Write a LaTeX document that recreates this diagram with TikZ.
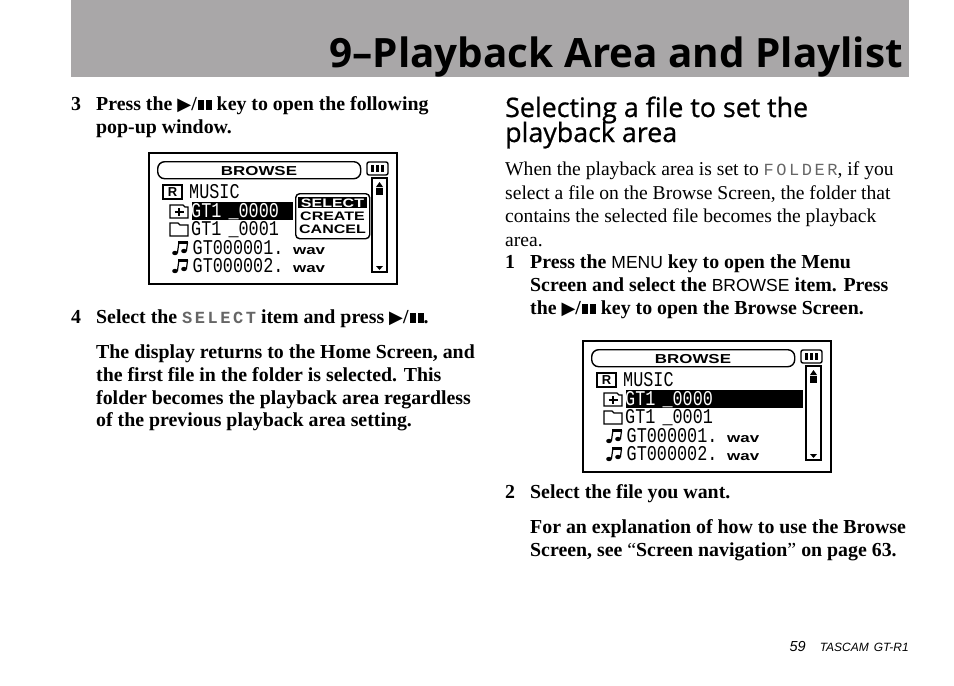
\documentclass[tikz,border=0pt]{standalone}
\usepackage{fontspec}
\setmainfont{Liberation Serif}
\newfontfamily\titlefont{Open Sans}
\newfontfamily\headfont[FakeBold=0.8]{Open Sans}
\newfontfamily\labelfont{Liberation Sans}
\newfontfamily\symbolfont{DejaVu Sans}
\newfontfamily\lcdfont[FakeStretch=0.8]{Liberation Mono}
\newfontfamily\lcdbold[FakeStretch=1.3]{Liberation Sans}
\newfontfamily\lcdword[LetterSpace=15]{Liberation Mono}
\definecolor{bandgray}{HTML}{A9A7A8}
\definecolor{wordgray}{HTML}{666666}

\newcommand{\playkey}{{\symbolfont\fontsize{18}{18}\selectfont\symbol{"25B6}}/\hspace{1.5pt}\rule{5.5pt}{10.5pt}\hspace{2.5pt}\rule{5.5pt}{10.5pt}}
\newcommand{\lcdinline}[1]{{\lcdword\fontsize{17}{17}\selectfont\color{wordgray}#1}}
\newcommand{\keyname}[1]{{\labelfont\fontsize{17.5}{17.5}\selectfont\mdseries #1}}

\tikzset{
  bodyline/.style={anchor=base west,inner sep=0pt,font=\fontsize{19.6}{23}\selectfont},
  boldline/.style={bodyline,font=\fontsize{19.85}{23}\selectfont\bfseries},
  headline/.style={anchor=base west,inner sep=0pt,font=\headfont\fontsize{26.8}{28}\selectfont},
  lcdtext/.style={anchor=base west,inner sep=0pt,font=\lcdfont\fontsize{21}{21}\selectfont},
  lcdsmall/.style={anchor=base west,inner sep=0pt,font=\lcdbold\bfseries\fontsize{13}{13}\selectfont},
  lcdhead/.style={anchor=base,inner sep=0pt,font=\lcdbold\bfseries\fontsize{13}{13}\selectfont},
  lcdmenu/.style={anchor=base,inner sep=0pt,font=\lcdbold\bfseries\fontsize{12.3}{12.3}\selectfont},
  lcdline/.style={draw=black,line width=1.4pt}
}

% beamed note, #1 is the height of its heads
\newcommand{\noteicon}[1]{
  \fill (25,#1) ellipse (2.8pt and 2.2pt);
  \fill (34,#1-2) ellipse (2.8pt and 2.2pt);
  \draw[line width=1.2pt] (27.4,#1) -- (29,#1-11) (36.4,#1-2) -- (37.6,#1-11);
  \draw[line width=2.4pt] (28.4,#1-10.5) -- (38,#1-10.5);
}

% one browse screen, #1 prefix, #2 and #3 top left corner, #4 end of the bar
\newcommand{\browsescreen}[4]{
  \begin{scope}[shift={(#2,#3)}]
    \draw[line width=1.1pt] (-1,-1) rectangle (247,130);
    \node[lcdline,rounded corners=7pt,minimum width=203pt,minimum height=17pt,inner sep=0pt,anchor=north west] (#1pill) at (7,7) {};
    \node[lcdhead] (#1title) at (109,21) {BROWSE};
    % battery
    \draw[lcdline,rounded corners=2pt] (217,8) rectangle (238,21);
    \foreach \bx in {221,226,231}
      \fill (\bx,11) rectangle +(3.4,7);
    % scroll bar
    \draw[lcdline,line width=1.5pt] (222,24) rectangle (237,118);
    \fill (226,33) -- (233,33) -- (229.5,28) -- cycle;
    \fill (226,33.5) rectangle (233,41);
    \fill (226,112) -- (233,112) -- (229.5,116) -- cycle;
    % bar
    \fill (42,48) rectangle (#4,66);
    % folder line
    \draw[lcdline] (13,31) rectangle (32,45);
    \node[inner sep=0pt,font=\labelfont\bfseries\fontsize{13}{13}\selectfont] (#1card) at (22.5,38) {R};
    \node[lcdtext] (#1music) at (39,44) {MUSIC};
    \draw[lcdline] (20,64) -- (20,51) -- (33,51) -- (35,53) -- (38,53) -- (38,64) -- cycle;
    \draw[lcdline] (24.5,58) -- (33.5,58) (29,54) -- (29,62);
    \node[lcdtext,white] (#1first) at (41,63) {GT1 \hspace{-3pt}\_0000};
    \draw[lcdline] (20,82) -- (20,69) -- (28,69) -- (30,71) -- (38,71) -- (38,82) -- cycle;
    \node[lcdtext] (#1second) at (41,81) {GT1 \hspace{-3pt}\_0001};
    \noteicon{99}
    \node[lcdtext] (#1fileone) at (42.5,100) {GT000001.};
    \node[lcdsmall] (#1wavone) at (143,100) {wav};
    \noteicon{117}
    \node[lcdtext] (#1filetwo) at (42.5,118) {GT000002.};
    \node[lcdsmall] (#1wavtwo) at (143,118) {wav};
  \end{scope}
}

\begin{document}
\begin{tikzpicture}[x=1pt,y=-1pt]
  \useasboundingbox (0,0) rectangle (954,686);

  \fill[bandgray] (71,0) rectangle (909,77);
  \node[anchor=base east,inner sep=0pt,font=\titlefont\bfseries\fontsize{40.4}{41}\selectfont] (pagetitle) at (903,67) {9\textendash Playback Area and Playlist};

  % left column
  \node[boldline] (stepthree) at (71,110) {3};
  \node[boldline] (stepthreea) at (96,110) {Press the \playkey{} key to open the following};
  \node[boldline] (stepthreeb) at (96,133) {pop-up window.};

  \browsescreen{a}{150}{154}{143}
  \begin{scope}[shift={(150,154)}]
    \node[draw=black,line width=1.4pt,rounded corners=4pt,fill=white,minimum width=74pt,minimum height=45pt,inner sep=0pt,anchor=north west] (popup) at (145,39) {};
    \fill (148,43) rectangle (217,54);
    \node[lcdmenu,white] (popselect) at (182.5,53) {SELECT};
    \node[lcdmenu] (popcreate) at (182.5,66) {CREATE};
    \node[lcdmenu] (popcancel) at (182.5,79) {CANCEL};
  \end{scope}

  \node[boldline] (stepfour) at (71,323) {4};
  \node[boldline] (stepfoura) at (96,323) {Select the \lcdinline{SELECT} item and press \playkey.};
  \node[boldline] (parta) at (96,358) {The display returns to the Home Screen, and};
  \node[boldline] (partb) at (96,381) {the first file in the folder is selected. This};
  \node[boldline] (partc) at (96,404) {folder becomes the playback area regardless};
  \node[boldline] (partd) at (96,426) {of the previous playback area setting.};

  % right column
  \node[headline] (heada) at (505,117) {Selecting a file to set the};
  \node[headline] (headb) at (505,142) {playback area};
  \node[bodyline] (introa) at (505,175) {When the playback area is set to \lcdinline{FOLDER}, if you};
  \node[bodyline] (introb) at (505,199) {select a file on the Browse Screen, the folder that};
  \node[bodyline] (introc) at (505,222) {contains the selected file becomes the playback};
  \node[bodyline] (introd) at (505,246) {area.};

  \node[boldline] (stepone) at (505,268) {1};
  \node[boldline] (stepa) at (530,268) {Press the \keyname{MENU} key to open the Menu};
  \node[boldline] (stepb) at (530,291) {Screen and select the \keyname{BROWSE} item. Press};
  \node[boldline] (stepc) at (530,314) {the \playkey{} key to open the Browse Screen.};

  \browsescreen{b}{584}{342}{219}

  \node[boldline] (steptwo) at (505,498) {2};
  \node[boldline] (stepd) at (530,498) {Select the file you want.};
  \node[boldline] (explaina) at (530,533) {For an explanation of how to use the Browse};
  \node[boldline] (explainb) at (530,556) {Screen, see \mdseries``\bfseries Screen navigation\mdseries''\bfseries{} on page 63.};

  % footer
  \node[anchor=base east,inner sep=0pt,font=\labelfont\itshape\fontsize{12}{12}\selectfont] (model) at (909,651) {TASCAM\hspace{5pt}GT-R1};
  \node[anchor=base east,inner sep=0pt,font=\labelfont\itshape\fontsize{14.5}{14.5}\selectfont] (pagenum) at (806,651) {59};
\end{tikzpicture}
\end{document}
